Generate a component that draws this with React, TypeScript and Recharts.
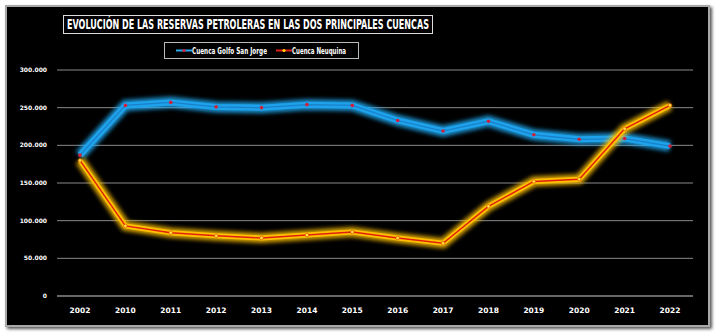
import { LineChart, Line, XAxis, YAxis, CartesianGrid } from 'recharts';

const years = ['2002', '2010', '2011', '2012', '2013', '2014', '2015', '2016', '2017', '2018', '2019', '2020', '2021', '2022'];
const golfoSanJorge = [187000, 253000, 257000, 251000, 250000, 254000, 253000, 233000, 219000, 232000, 214000, 208000, 209000, 199000];
const neuquina = [180000, 93000, 84000, 80000, 77000, 81000, 85000, 77000, 70000, 119000, 152000, 155000, 222000, 253000];
const yTicks = [0, 50000, 100000, 150000, 200000, 250000, 300000];

const data = years.map((year, i) => ({ year, gsj: golfoSanJorge[i], neu: neuquina[i] }));

const fmt = (v: number) => (v === 0 ? '0' : v.toLocaleString('de-DE'));

const font = '"DejaVu Sans Condensed", "DejaVu Sans", sans-serif';

function Header() {
  return (
    <svg style={{ position: 'absolute', left: 0, top: 0 }} width={715} height={64}>
      <rect x={63.5} y={15.5} width={369} height={18} fill="#000" stroke="#ddd" strokeWidth={1} />
      <text
        x={67}
        y={29}
        textLength={362}
        lengthAdjust="spacingAndGlyphs"
        fill="#fff"
        fontFamily={font}
        fontWeight="bold"
        fontSize={13.5}
      >
        EVOLUCIÓN DE LAS RESERVAS PETROLERAS EN LAS DOS PRINCIPALES CUENCAS
      </text>
      <rect x={164.5} y={42.5} width={194} height={16} fill="#000" stroke="#bbb" strokeWidth={1} />
      <line x1={176} y1={50.5} x2={192} y2={50.5} stroke="#2aa6ee" strokeWidth={2} />
      <circle cx={184} cy={50.5} r={1.6} fill="#d0203a" />
      <text x={192} y={53.5} textLength={75} lengthAdjust="spacingAndGlyphs" fill="#fff" fontFamily={font} fontWeight="bold" fontSize={8.5}>
        Cuenca Golfo San Jorge
      </text>
      <line x1={276} y1={50.5} x2={292} y2={50.5} stroke="#e02010" strokeWidth={2} />
      <circle cx={284} cy={50.5} r={1.6} fill="#ffd000" />
      <text x={292} y={53.5} textLength={54} lengthAdjust="spacingAndGlyphs" fill="#fff" fontFamily={font} fontWeight="bold" fontSize={8.5}>
        Cuenca Neuquina
      </text>
    </svg>
  );
}

export default function App() {
  return (
    <div style={{ position: 'absolute', left: 0, top: 0, width: 715, height: 335, background: '#fff' }}>
      <div
        style={{
          position: 'absolute',
          left: 5,
          top: 5,
          width: 701,
          height: 318,
          background: '#000',
          border: '2px solid #a8a8a8',
          boxShadow: '2px 2px 3px #555',
        }}
      />
      <Header />
      <div style={{ position: 'absolute', left: 0, top: 0 }}>
        <LineChart width={715} height={335} data={data} margin={{ top: 70, right: 22, left: 7, bottom: 19 }}>
          <defs>
            <filter id="glow" x="-10%" y="-30%" width="120%" height="160%">
              <feGaussianBlur stdDeviation="2" />
            </filter>
          </defs>
          <CartesianGrid vertical={false} stroke="#8a8a8a" strokeWidth={1} />
          <XAxis
            dataKey="year"
            padding={{ left: 23, right: 23 }}
            stroke="#8a8a8a"
            tickLine={false}
            height={20}
            tick={{ fill: '#fff', fontSize: 7.5, fontWeight: 'bold', fontFamily: 'DejaVu Sans' }}
            tickMargin={6}
          />
          <YAxis
            domain={[0, 300000]}
            ticks={yTicks}
            tickFormatter={fmt}
            axisLine={false}
            tickLine={false}
            width={50}
            tick={{ fill: '#fff', fontSize: 6, fontWeight: 'bold', fontFamily: 'DejaVu Sans' }}
            tickMargin={4}
          />
          <Line dataKey="gsj" stroke="#22aaf4" strokeWidth={11} strokeOpacity={0.85} filter="url(#glow)" dot={false} isAnimationActive={false} legendType="none" />
          <Line dataKey="gsj" stroke="#1ea2ec" strokeWidth={6} dot={false} isAnimationActive={false} legendType="none" />
          <Line dataKey="gsj" stroke="#1a80c8" strokeWidth={1.2} dot={{ r: 1.8, fill: '#d0203a', stroke: 'none' }} isAnimationActive={false} />
          <Line dataKey="neu" stroke="#ffc000" strokeWidth={10} strokeOpacity={0.85} filter="url(#glow)" dot={false} isAnimationActive={false} legendType="none" />
          <Line dataKey="neu" stroke="#ffc000" strokeWidth={5} dot={false} isAnimationActive={false} legendType="none" />
          <Line dataKey="neu" stroke="#e02010" strokeWidth={1.4} dot={{ r: 1.8, fill: '#ffe040', stroke: '#e04000', strokeWidth: 0.6 }} isAnimationActive={false} />
        </LineChart>
      </div>
    </div>
  );
}
